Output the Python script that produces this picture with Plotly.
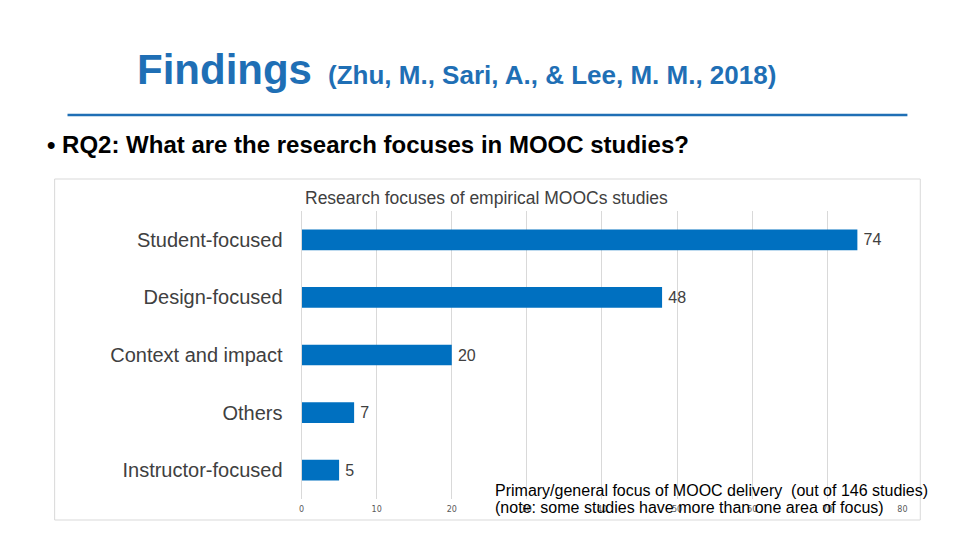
import plotly.graph_objects as go

categories = ["Student-focused", "Design-focused", "Context and impact", "Others", "Instructor-focused"]
values = [74, 48, 20, 7, 5]
x_ticks = [0, 10, 20, 30, 40, 50, 60, 70, 80]

# page body has an 8px margin; size the figure so it fits the 960x540 window
OFF = 8
W, H = 960 - OFF, 540 - OFF
def px(x): return (x - OFF) / W
def py(y): return 1 - (y - OFF) / H

FONT = "Liberation Sans, Arial, sans-serif"

fig = go.Figure()
fig.add_trace(go.Bar(
    y=categories, x=values, orientation="h",
    marker=dict(color="#0070C0", line=dict(width=0)),
    width=0.36,
    text=["\u2009" + str(v) for v in values], textposition="outside",
    textfont=dict(family=FONT, size=16, color="#404040"),
    cliponaxis=False,
))

fig.update_layout(
    width=W, height=H, margin=dict(l=0, r=0, t=0, b=0),
    paper_bgcolor="white", plot_bgcolor="white",
    showlegend=False,
    xaxis=dict(domain=[px(301), px(907)], range=[0, 80], tickvals=x_ticks,
               showgrid=True, gridcolor="#D9D9D9", gridwidth=1, zeroline=False,
               showline=False, ticks="", ticklabelstandoff=4,
               tickfont=dict(family="DejaVu Sans", size=8, color="#595959")),
    yaxis=dict(domain=[py(499), py(211)], autorange="reversed",
               showgrid=False, zeroline=False, showline=True, linecolor="#D9D9D9",
               ticks="", ticklabelstandoff=14,
               tickfont=dict(family=FONT, size=20, color="#404040")),
    font=dict(family=FONT),
)

shapes = [
    dict(type="rect", xref="paper", yref="paper", x0=px(52), x1=px(925), y0=py(520), y1=py(179),
         line=dict(color="#D9D9D9", width=1), fillcolor="rgba(0,0,0,0)", layer="below"),
    dict(type="line", xref="paper", yref="paper", x0=px(65), x1=px(912), y0=py(115), y1=py(115),
         line=dict(color="#1F6FB5", width=2.5)),
]
fig.update_layout(shapes=shapes)

ann = [
    dict(x=px(133), y=py(69), text="<b>Findings</b>", font=dict(family=FONT, size=42, color="#1F6FB5"),
         xanchor="left", yanchor="middle"),
    dict(x=px(326), y=py(75), text="<b>(Zhu, M., Sari, A., &amp; Lee, M. M., 2018)</b>",
         font=dict(family=FONT, size=26, color="#1F6FB5"), xanchor="left", yanchor="middle"),
    dict(x=px(42), y=py(144), text="<b>• RQ2: What are the research focuses in MOOC studies?</b>",
         font=dict(family=FONT, size=24, color="#000000"), xanchor="left", yanchor="middle"),
    dict(x=px(488), y=py(198), text="Research focuses of empirical MOOCs studies",
         font=dict(family=FONT, size=17.5, color="#404040"), xanchor="center", yanchor="middle"),
    dict(x=px(494), y=py(490), text="Primary/general focus of MOOC delivery  (out of 146 studies)",
         font=dict(family=FONT, size=16, color="#000000"), xanchor="left", yanchor="middle"),
    dict(x=px(494), y=py(507), text="(note: some studies have more than one area of focus)",
         font=dict(family=FONT, size=16, color="#000000"), xanchor="left", yanchor="middle"),
]
for a in ann:
    a.update(xref="paper", yref="paper", showarrow=False)
fig.update_layout(annotations=ann)

fig.write_html("out.html")
